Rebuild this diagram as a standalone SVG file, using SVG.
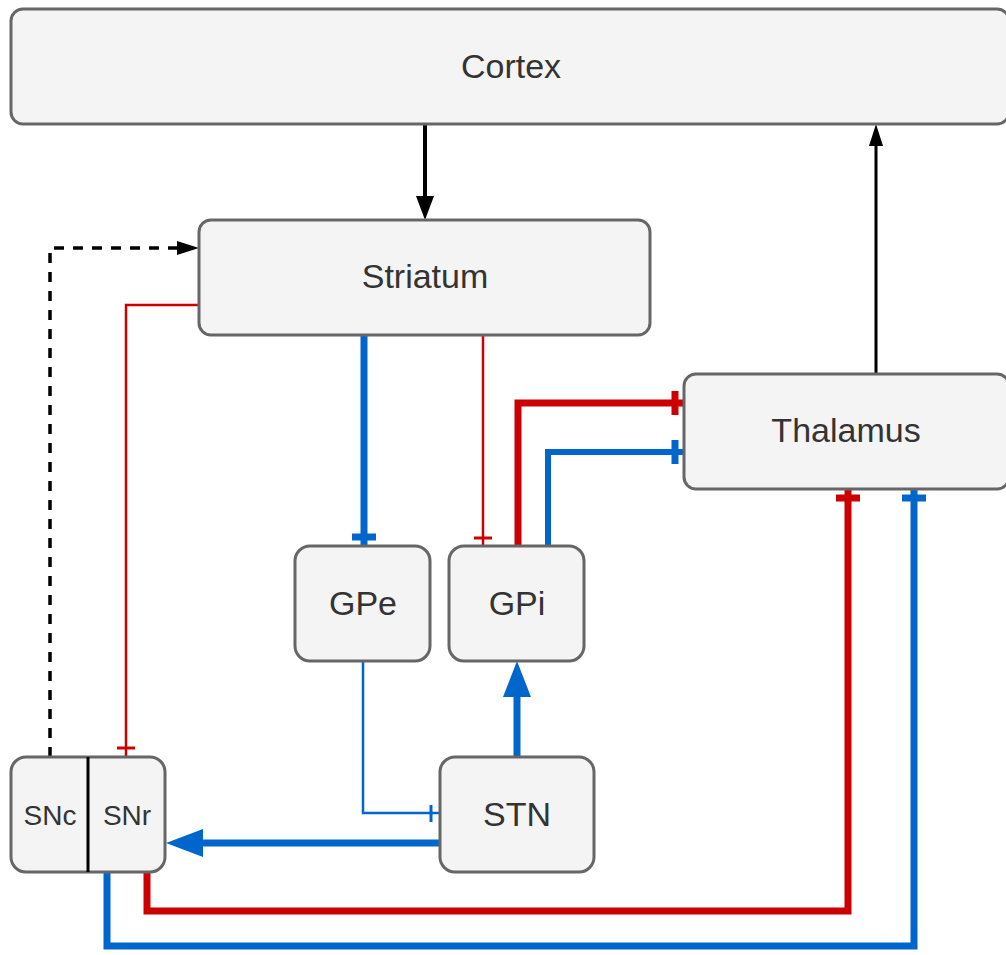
<svg xmlns="http://www.w3.org/2000/svg" width="1006" height="955" viewBox="0 0 1006 955">
  <style>
    .box { fill: #f4f4f4; stroke: #666666; stroke-width: 3; }
    .lbl { font-family: "Liberation Sans", Arial, sans-serif; font-size: 34px; fill: #333333; text-anchor: middle; }
    .lbl-s { font-family: "Liberation Sans", Arial, sans-serif; font-size: 28px; fill: #333333; text-anchor: middle; }
    .blk { stroke: #000000; fill: none; }
    .red { stroke: #cc0000; fill: none; }
    .blu { stroke: #0066cc; fill: none; }
    .thick { stroke-width: 7; }
    .thin { stroke-width: 2.5; }
  </style>

  <!-- connectors -->
  <g id="connectors" stroke-linejoin="miter" stroke-linecap="butt">
    <!-- Cortex -> Striatum -->
    <path class="blk" stroke-width="4" d="M425 124 V198"/>
    <polygon fill="#000" points="416,196 434,196 425,220"/>
    <!-- Thalamus -> Cortex -->
    <path class="blk" stroke-width="3" d="M876 374 V144"/>
    <polygon fill="#000" points="869,146 883,146 876,124"/>
    <!-- SNc -> Striatum (dashed) -->
    <path class="blk" stroke-width="3.5" stroke-dasharray="10 9" d="M50 757 V248 H180"/>
    <polygon fill="#000" points="177,241 177,255 199,248"/>
    <!-- Striatum -> SNr -->
    <path class="red thin" d="M199 305 H126 V757"/>
    <path class="red" stroke-width="3" d="M117 748 H135"/>
    <!-- Striatum -> GPe -->
    <path class="blu thick" d="M364 335 V546"/>
    <path class="blu" stroke-width="7" d="M352 537 H376"/>
    <!-- Striatum -> GPi -->
    <path class="red thin" d="M483 335 V546"/>
    <path class="red" stroke-width="3" d="M474 538 H492"/>
    <!-- GPi -> Thalamus -->
    <path class="red thick" d="M518 546 V403 H684"/>
    <path class="red" stroke-width="7" d="M675 391 V415"/>
    <path class="blu" stroke-width="6" d="M548 546 V452 H684"/>
    <path class="blu" stroke-width="7" d="M675 440 V464"/>
    <!-- GPe -> STN -->
    <path class="blu thin" d="M363 661 V813 H440"/>
    <path class="blu" stroke-width="3" d="M431 805 V822"/>
    <!-- STN -> GPi -->
    <path class="blu thick" d="M517 757 V694"/>
    <polygon fill="#0066cc" points="503,697 531,697 517,661"/>
    <!-- STN -> SNr -->
    <path class="blu thick" d="M440 843 H200"/>
    <polygon fill="#0066cc" points="203,829 203,857 166,843"/>
    <!-- SNr -> Thalamus -->
    <path class="red thick" d="M147 872 V911 H848 V489"/>
    <path class="red" stroke-width="7" d="M836 498 H860"/>
    <path class="blu thick" d="M107 872 V946 H914 V489"/>
    <path class="blu" stroke-width="7" d="M902 498 H926"/>
  </g>

  <!-- nodes -->
  <g id="cortex">
    <rect class="box" x="11" y="9" width="998" height="115" rx="12"/>
    <text class="lbl" x="511" y="78">Cortex</text>
  </g>
  <g id="striatum">
    <rect class="box" x="199" y="220" width="451" height="115" rx="12"/>
    <text class="lbl" x="425" y="288">Striatum</text>
  </g>
  <g id="thalamus">
    <rect class="box" x="684" y="374" width="325" height="115" rx="12"/>
    <text class="lbl" x="846" y="442">Thalamus</text>
  </g>
  <g id="gpe">
    <rect class="box" x="295" y="546" width="135" height="115" rx="15"/>
    <text class="lbl" x="363" y="615">GPe</text>
  </g>
  <g id="gpi">
    <rect class="box" x="449" y="546" width="135" height="115" rx="15"/>
    <text class="lbl" x="517" y="615">GPi</text>
  </g>
  <g id="stn">
    <rect class="box" x="440" y="757" width="154" height="115" rx="15"/>
    <text class="lbl" x="517" y="826">STN</text>
  </g>
  <g id="substantia-nigra">
    <rect class="box" x="11" y="757" width="154" height="115" rx="15"/>
    <line x1="88" y1="757" x2="88" y2="872" stroke="#000" stroke-width="3"/>
    <text class="lbl-s" x="50" y="825">SNc</text>
    <text class="lbl-s" x="127" y="825">SNr</text>
  </g>
</svg>
